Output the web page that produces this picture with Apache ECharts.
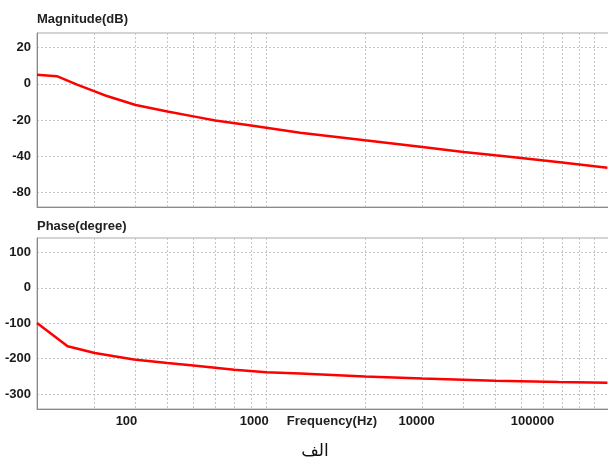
<!DOCTYPE html>
<html>
<head>
<meta charset="utf-8">
<script src="https://cdn.jsdelivr.net/npm/echarts@6/dist/echarts.min.js"></script>
<style>
  html, body { margin: 0; padding: 0; background: #fff; }
  #main { width: 608px; height: 463px; }
</style>
</head>
<body>
<div id="main"></div>
<script>
  // x positions are on the plot's log grid (one decade = 10..100 on the grid)
  var magFreq = [2.0, 2.3, 2.65, 3.0, 3.25, 4.0, 5.0, 6.0, 7.0, 9.0, 12.7, 20, 30, 40, 50, 60, 80, 110];
  var magDb = [5, 4.2, -0.5, -4.2, -6.6, -11.7, -15.3, -18, -20.3, -23, -27, -31.2, -34.9, -37.6, -39.5, -41, -43.5, -46.4];

  var phaseFreq = [2.0, 2.48, 2.72, 3.0, 3.95, 5.0, 6.0, 8.0, 10, 12.7, 20, 30, 50, 78, 110];
  var phaseDeg = [-99, -165, -174, -184, -202, -212, -219, -231, -238, -242, -250, -256, -262, -265.5, -268];

  // vertical grid lines
  var gridX = [3, 4, 5, 6, 7, 8, 9, 10, 20, 30, 40, 50, 60, 70, 80, 90, 100];
  // frequency tick labels and where they sit on the grid
  var freqLabelPos = [3.75, 9.2, 28.8, 65];
  var freqLabels = ['100', '1000', '10000', '100000'];

  var magTicks = [20, 0, -20, -40, -60];
  var magTickLabels = ['20', '0', '-20', '-40', '-80'];
  var phaseTicks = [100, 0, -100, -200, -300];
  var phaseTickLabels = ['100', '0', '-100', '-200', '-300'];

  function pick(vals, labels) {
    return function (v) {
      var best = 0;
      for (var i = 1; i < vals.length; i++) {
        if (Math.abs(vals[i] - v) < Math.abs(vals[best] - v)) best = i;
      }
      return labels[best];
    };
  }

  var myChart = echarts.init(document.getElementById('main'), null, { renderer: 'canvas' });

  var splitStyle = { show: true, lineStyle: { color: '#c4c4c4', type: [2, 2], width: 1 } };
  var labelFont = { color: '#1a1a1a', fontWeight: 'bold', fontSize: 13, fontFamily: 'Liberation Sans, Arial' };

  function xAxisFor(idx, showLabels) {
    return {
      type: 'log',
      gridIndex: idx,
      min: 2,
      max: 112,
      axisLine: { show: true, onZero: false, lineStyle: { color: '#8a8a8a', width: 1 } },
      axisTick: { show: false, customValues: gridX },
      splitLine: splitStyle,
      axisLabel: Object.assign({
        show: showLabels,
        margin: 6,
        customValues: freqLabelPos,
        formatter: pick(freqLabelPos, freqLabels)
      }, labelFont)
    };
  }

  function yAxisFor(idx, min, max, ticks, labels) {
    return {
      type: 'value',
      gridIndex: idx,
      min: min,
      max: max,
      axisLine: { show: true, onZero: false, lineStyle: { color: '#8a8a8a', width: 1 } },
      axisTick: { show: false, customValues: ticks },
      splitLine: splitStyle,
      axisLabel: Object.assign({
        margin: 6,
        customValues: ticks,
        formatter: pick(ticks, labels)
      }, labelFont)
    };
  }

  var option = {
    animation: false,
    backgroundColor: '#fff',
    grid: [
      { left: 37, top: 33, width: 573, height: 174, show: true, borderColor: '#a8a8a8', borderWidth: 1, containLabel: false, outerBoundsMode: 'none' },
      { left: 37, top: 238, width: 573, height: 171, show: true, borderColor: '#a8a8a8', borderWidth: 1, containLabel: false, outerBoundsMode: 'none' }
    ],
    xAxis: [xAxisFor(0, false), xAxisFor(1, true)],
    yAxis: [
      yAxisFor(0, -68, 28, magTicks, magTickLabels),
      yAxisFor(1, -342, 141, phaseTicks, phaseTickLabels)
    ],
    graphic: [
      { type: 'text', x: 37, y: 19, style: { text: 'Magnitude(dB)', fill: '#222', font: 'bold 13px "Liberation Sans", Arial', verticalAlign: 'middle' } },
      { type: 'text', x: 37, y: 226, style: { text: 'Phase(degree)', fill: '#222', font: 'bold 13px "Liberation Sans", Arial', verticalAlign: 'middle' } },
      { type: 'text', x: 332, y: 421, style: { text: 'Frequency(Hz)', fill: '#222', font: 'bold 13px "Liberation Sans", Arial', align: 'center', verticalAlign: 'middle' } },
      { type: 'text', x: 315, y: 452, style: { text: 'الف', fill: '#111', font: '17px "DejaVu Sans"', align: 'center', verticalAlign: 'middle' } }
    ],
    series: [
      {
        name: 'Magnitude',
        type: 'line',
        xAxisIndex: 0,
        yAxisIndex: 0,
        symbol: 'none',
        lineStyle: { color: '#ff0000', width: 2.5 },
        data: magFreq.map(function (f, i) { return [f, magDb[i]]; })
      },
      {
        name: 'Phase',
        type: 'line',
        xAxisIndex: 1,
        yAxisIndex: 1,
        symbol: 'none',
        lineStyle: { color: '#ff0000', width: 2.5 },
        data: phaseFreq.map(function (f, i) { return [f, phaseDeg[i]]; })
      }
    ]
  };
  myChart.setOption(option);
</script>
</body>
</html>
